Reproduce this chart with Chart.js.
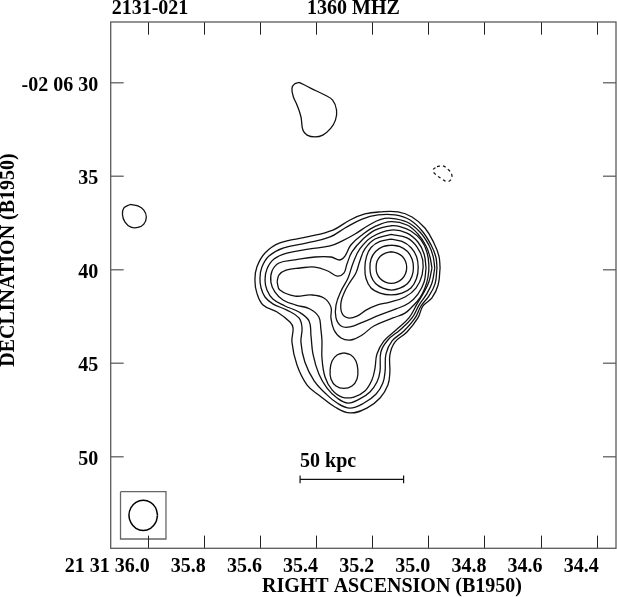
<!DOCTYPE html>
<html>
<head>
<meta charset="utf-8">
<script src="https://cdn.jsdelivr.net/npm/chart.js@4"></script>
<style>
html, body {margin: 0; padding: 0; background: #fff;}
canvas {display: block;}
</style>
</head>
<body>
<canvas id="mapa" width="617" height="597"></canvas>
<script>
// Ejes: AR en segundos (21h31m), Dec en segundos de arco (-02 06 xx)
const raTicks = [36.0, 35.8, 35.6, 35.4, 35.2, 35.0, 34.8, 34.6, 34.4];
const raTickLabels = ["21 31 36.0", "35.8", "35.6", "35.4", "35.2", "35.0", "34.8", "34.6", "34.4"];
const decTicks = [30, 35, 40, 45, 50];
const decTickLabels = ["-02 06 30", "35", "40", "45", "50"];
const raRange = [34.331, 36.132];
const decRange = [26.754, 54.898];

// Contornos de la fuente principal (de afuera hacia adentro)
const level1 = [[34.958,39.91],[34.965,40.82],[34.987,41.51],[35.019,41.94],[35.037,42.58],[35.076,43.33],[35.119,43.87],[35.137,44.56],[35.137,45.47],[35.144,46.17],[35.172,46.86],[35.219,47.40],[35.279,47.66],[35.333,47.34],[35.386,46.75],[35.432,46.17],[35.468,45.10],[35.486,43.87],[35.482,43.12],[35.493,42.80],[35.539,42.26],[35.589,41.89],[35.611,41.25],[35.618,40.55],[35.611,39.86],[35.582,39.11],[35.529,38.57],[35.432,38.25],[35.340,37.88],[35.279,37.34],[35.226,37.02],[35.172,36.91],[35.108,36.91],[35.058,37.18],[35.012,37.77],[34.980,38.57],[34.962,39.27],[34.958,39.91]];
const level2 = [[34.969,39.91],[34.976,40.76],[34.998,41.41],[35.026,41.94],[35.047,42.58],[35.087,43.28],[35.129,43.81],[35.151,44.51],[35.154,45.42],[35.162,46.06],[35.186,46.65],[35.229,47.13],[35.279,47.40],[35.325,47.13],[35.368,46.59],[35.407,45.95],[35.440,44.94],[35.454,43.87],[35.450,43.12],[35.461,42.58],[35.504,42.16],[35.554,41.83],[35.582,41.46],[35.596,40.98],[35.600,40.44],[35.593,39.86],[35.568,39.27],[35.518,38.84],[35.432,38.57],[35.350,38.25],[35.297,37.77],[35.236,37.29],[35.179,37.07],[35.119,37.07],[35.065,37.34],[35.022,37.93],[34.990,38.68],[34.973,39.32],[34.969,39.91]];
const level3 = [[34.977,39.91],[34.987,40.71],[35.008,41.35],[35.033,41.89],[35.058,42.58],[35.101,43.22],[35.144,43.76],[35.169,44.40],[35.172,45.42],[35.183,46.01],[35.208,46.54],[35.244,46.91],[35.286,47.13],[35.325,46.86],[35.361,46.33],[35.390,45.58],[35.411,44.51],[35.418,43.55],[35.425,42.74],[35.461,42.26],[35.511,41.94],[35.554,41.57],[35.575,41.09],[35.582,40.55],[35.575,39.96],[35.550,39.43],[35.504,39.11],[35.422,38.89],[35.350,38.73],[35.308,38.47],[35.261,38.09],[35.211,37.61],[35.172,37.32],[35.133,37.25],[35.076,37.45],[35.030,37.98],[34.998,38.68],[34.983,39.27],[34.977,39.91]];
const level4 = [[34.987,39.91],[34.998,40.66],[35.019,41.30],[35.040,41.83],[35.069,42.58],[35.115,43.22],[35.158,43.81],[35.183,44.51],[35.190,45.26],[35.201,45.90],[35.226,46.49],[35.265,46.81],[35.308,46.81],[35.343,46.43],[35.368,45.74],[35.379,44.72],[35.379,43.81],[35.383,43.17],[35.390,42.53],[35.422,42.10],[35.472,41.89],[35.518,41.62],[35.547,41.19],[35.561,40.66],[35.557,40.07],[35.532,39.64],[35.475,39.48],[35.404,39.32],[35.347,39.32],[35.315,39.48],[35.297,39.27],[35.276,38.68],[35.236,38.14],[35.186,37.66],[35.133,37.43],[35.076,37.61],[35.037,38.09],[35.008,38.73],[34.994,39.32],[34.987,39.91]];
const level5 = [[35.539,40.66],[35.529,41.09],[35.475,41.41],[35.418,41.35],[35.372,41.51],[35.347,42.00],[35.347,42.58],[35.336,43.22],[35.311,43.65],[35.276,43.76],[35.236,43.49],[35.194,43.01],[35.126,42.58],[35.083,42.32],[35.055,41.94],[35.030,41.51],[35.012,40.98],[35.001,40.39],[34.998,39.75],[35.005,39.05],[35.026,38.41],[35.062,37.93],[35.101,37.69],[35.133,37.65],[35.190,37.88],[35.236,38.41],[35.272,39.05],[35.290,39.70],[35.301,40.18],[35.325,40.34],[35.358,40.07],[35.404,39.86],[35.457,39.91],[35.507,40.02],[35.532,40.28],[35.539,40.66]];
const level6 = [[35.008,39.91],[35.015,40.66],[35.037,41.30],[35.069,41.78],[35.115,42.10],[35.172,42.42],[35.233,42.80],[35.279,43.06],[35.311,43.01],[35.329,42.58],[35.329,41.89],[35.311,41.14],[35.286,40.44],[35.268,39.64],[35.244,38.89],[35.201,38.25],[35.133,37.88],[35.076,38.04],[35.037,38.52],[35.015,39.16],[35.008,39.91]];
const level7 = [[35.133,38.11],[35.076,38.30],[35.040,38.79],[35.020,39.48],[35.022,40.28],[35.044,40.98],[35.083,41.46],[35.137,41.73],[35.183,41.89],[35.222,42.16],[35.254,42.48],[35.286,42.58],[35.308,42.32],[35.311,41.73],[35.297,41.14],[35.279,40.66],[35.258,40.18],[35.244,39.53],[35.226,38.89],[35.190,38.36],[35.133,38.11]];
const level8 = [[35.133,38.37],[35.094,38.49],[35.062,38.81],[35.042,39.29],[35.036,39.88],[35.042,40.47],[35.062,40.98],[35.094,41.25],[35.133,41.35],[35.172,41.25],[35.204,40.98],[35.222,40.47],[35.226,39.88],[35.220,39.29],[35.204,38.81],[35.172,38.49],[35.133,38.37]];
const level9 = [[35.131,38.68],[35.101,38.77],[35.074,39.03],[35.058,39.43],[35.053,39.88],[35.058,40.34],[35.074,40.74],[35.101,40.99],[35.131,41.09],[35.162,40.99],[35.188,40.74],[35.204,40.34],[35.208,39.88],[35.204,39.43],[35.188,39.03],[35.162,38.77],[35.131,38.68]];
const level10 = [[35.132,39.04],[35.111,39.11],[35.093,39.28],[35.081,39.56],[35.077,39.88],[35.081,40.20],[35.093,40.48],[35.111,40.66],[35.132,40.73],[35.153,40.66],[35.171,40.48],[35.183,40.20],[35.186,39.88],[35.183,39.56],[35.171,39.28],[35.153,39.11],[35.132,39.04]];
// Lóbulo sur (isla del nivel 5)
const lobuloSur = [[35.301,44.45],[35.276,44.56],[35.258,44.88],[35.251,45.36],[35.254,45.84],[35.272,46.22],[35.301,46.35],[35.329,46.22],[35.347,45.84],[35.350,45.36],[35.343,44.88],[35.325,44.56],[35.301,44.45]];

// Fuentes débiles
const islaNorte = [[35.460,29.98],[35.418,30.30],[35.369,30.66],[35.341,30.93],[35.327,31.46],[35.331,32.00],[35.348,32.44],[35.376,32.80],[35.404,32.90],[35.432,32.80],[35.447,32.53],[35.454,31.82],[35.468,31.19],[35.481,30.75],[35.486,30.30],[35.477,30.07],[35.460,29.98]];
const islaOeste = [[36.063,36.51],[36.035,36.59],[36.014,36.81],[36.005,37.18],[36.014,37.56],[36.035,37.74],[36.060,37.72],[36.081,37.45],[36.090,37.07],[36.085,36.70],[36.063,36.51]];
const contornoNegativo = [[34.969,34.49],[34.948,34.45],[34.927,34.67],[34.916,34.94],[34.920,35.20],[34.934,35.29],[34.955,35.11],[34.976,34.88],[34.983,34.67],[34.969,34.49]];

// Haz y su recuadro
const haz = [[35.965,53.13],[35.972,52.73],[35.990,52.44],[36.016,52.33],[36.042,52.44],[36.060,52.73],[36.067,53.13],[36.060,53.53],[36.042,53.83],[36.016,53.94],[35.990,53.83],[35.972,53.53],[35.965,53.13]];
const recuadroHaz = [[36.097,51.87],[35.935,51.87],[35.935,54.40],[36.097,54.40],[36.097,51.87]];

// Barra de escala
const escalaRA = [35.457, 35.088];
const escalaDec = [51.0, 51.21, 51.42];
const escalaTexto = "50 kpc";

const tituloFuente = "2131-021";
const tituloFrecuencia = "1360 MHZ";
const tituloX = "RIGHT ASCENSION (B1950)";
const tituloY = "DECLINATION (B1950)";

const contornos = [level1, level2, level3, level4, level5, level6, level7, level8, level9, level10, lobuloSur, islaNorte, islaOeste];

const fuente = 'bold 20px "Liberation Serif", "Times New Roman", serif';

function aPuntos(lista) {
    return lista.map(p => ({x: p[0], y: p[1]}));
}

const datasets = contornos.map(c => ({
    data: aPuntos(c), showLine: true, tension: 0.4,
    borderColor: "#111", borderWidth: 1.3, pointRadius: 0
}));

datasets.push({
    data: aPuntos(contornoNegativo), showLine: true, tension: 0.4,
    borderColor: "#111", borderWidth: 1.2, borderDash: [3, 3], pointRadius: 0
});
datasets.push({data: aPuntos(haz), showLine: true, tension: 0.4, borderColor: "#000", borderWidth: 1.5, pointRadius: 0});
datasets.push({data: aPuntos(recuadroHaz), showLine: true, tension: 0, borderColor: "#666", borderWidth: 1.3, pointRadius: 0});

// Barra: marcas en los extremos y la línea
const barra = [
    {x: escalaRA[0], y: escalaDec[0]}, {x: escalaRA[0], y: escalaDec[2]}, {x: escalaRA[0], y: escalaDec[1]},
    {x: escalaRA[1], y: escalaDec[1]}, {x: escalaRA[1], y: escalaDec[0]}, {x: escalaRA[1], y: escalaDec[2]}
];
datasets.push({data: barra, showLine: true, tension: 0, borderColor: "#111", borderWidth: 1.2, pointRadius: 0});

// Marco, marcas y textos
const marcoPlugin = {
    id: "marco",
    beforeDraw(chart) {
        const ctx = chart.ctx;
        ctx.save();
        ctx.fillStyle = "#fff";
        ctx.fillRect(0, 0, chart.width, chart.height);
        ctx.restore();
    },
    afterDraw(chart) {
        const {ctx, chartArea: a, scales: {x, y}} = chart;
        ctx.save();

        // marcas AR (arriba y abajo, hacia adentro)
        ctx.strokeStyle = "#222";
        ctx.lineWidth = 1;
        raTicks.forEach(t => {
            const px = Math.round(x.getPixelForValue(t)) + 0.5;
            ctx.beginPath();
            ctx.moveTo(px, a.top); ctx.lineTo(px, a.top + 12.7);
            ctx.moveTo(px, a.bottom); ctx.lineTo(px, a.bottom - 12.7);
            ctx.stroke();
        });

        // marcas Dec
        ctx.strokeStyle = "#777";
        ctx.lineWidth = 1.5;
        decTicks.forEach(t => {
            const py = y.getPixelForValue(t);
            ctx.beginPath();
            ctx.moveTo(a.left, py); ctx.lineTo(a.left + 13, py);
            ctx.moveTo(a.right, py); ctx.lineTo(a.right - 13, py);
            ctx.stroke();
        });

        // marco
        ctx.strokeStyle = "#5a5a5a";
        ctx.lineWidth = 1.3;
        ctx.strokeRect(a.left, a.top, a.right - a.left, a.bottom - a.top);

        ctx.fillStyle = "#000";
        ctx.font = fuente;

        // etiquetas AR
        ctx.textAlign = "right";
        ctx.textBaseline = "alphabetic";
        raTicks.forEach((t, i) => {
            ctx.fillText(raTickLabels[i], x.getPixelForValue(t) + 2, a.bottom + 23.5);
        });

        // etiquetas Dec
        decTicks.forEach((t, i) => {
            ctx.fillText(decTickLabels[i], a.left - 12.5, y.getPixelForValue(t) + 8);
        });

        // títulos
        ctx.textAlign = "left";
        ctx.fillText(tituloFuente, a.left + 1, 14);
        ctx.fillText(tituloFrecuencia, 307, 14);

        ctx.textAlign = "center";
        ctx.fillText(tituloX, 392, 592);

        ctx.save();
        ctx.translate(9, 260);
        ctx.rotate(-Math.PI / 2);
        ctx.textBaseline = "middle";
        ctx.fillText(tituloY, 0, 0);
        ctx.restore();

        // texto de la barra de escala
        ctx.textAlign = "left";
        ctx.fillText(escalaTexto, x.getPixelForValue(escalaRA[0]), y.getPixelForValue(escalaDec[1]) - 12);

        ctx.restore();
    }
};

new Chart(document.getElementById("mapa"), {
    type: "scatter",
    data: {datasets: datasets},
    options: {
        responsive: false,
        animation: false,
        layout: {padding: {left: 110.7, top: 22, right: 1, bottom: 48.7}},
        plugins: {legend: {display: false}, tooltip: {enabled: false}},
        scales: {
            x: {type: "linear", display: false, reverse: true, min: raRange[0], max: raRange[1]},
            y: {type: "linear", display: false, reverse: true, min: decRange[0], max: decRange[1]}
        }
    },
    plugins: [marcoPlugin]
});
</script>
</body>
</html>
